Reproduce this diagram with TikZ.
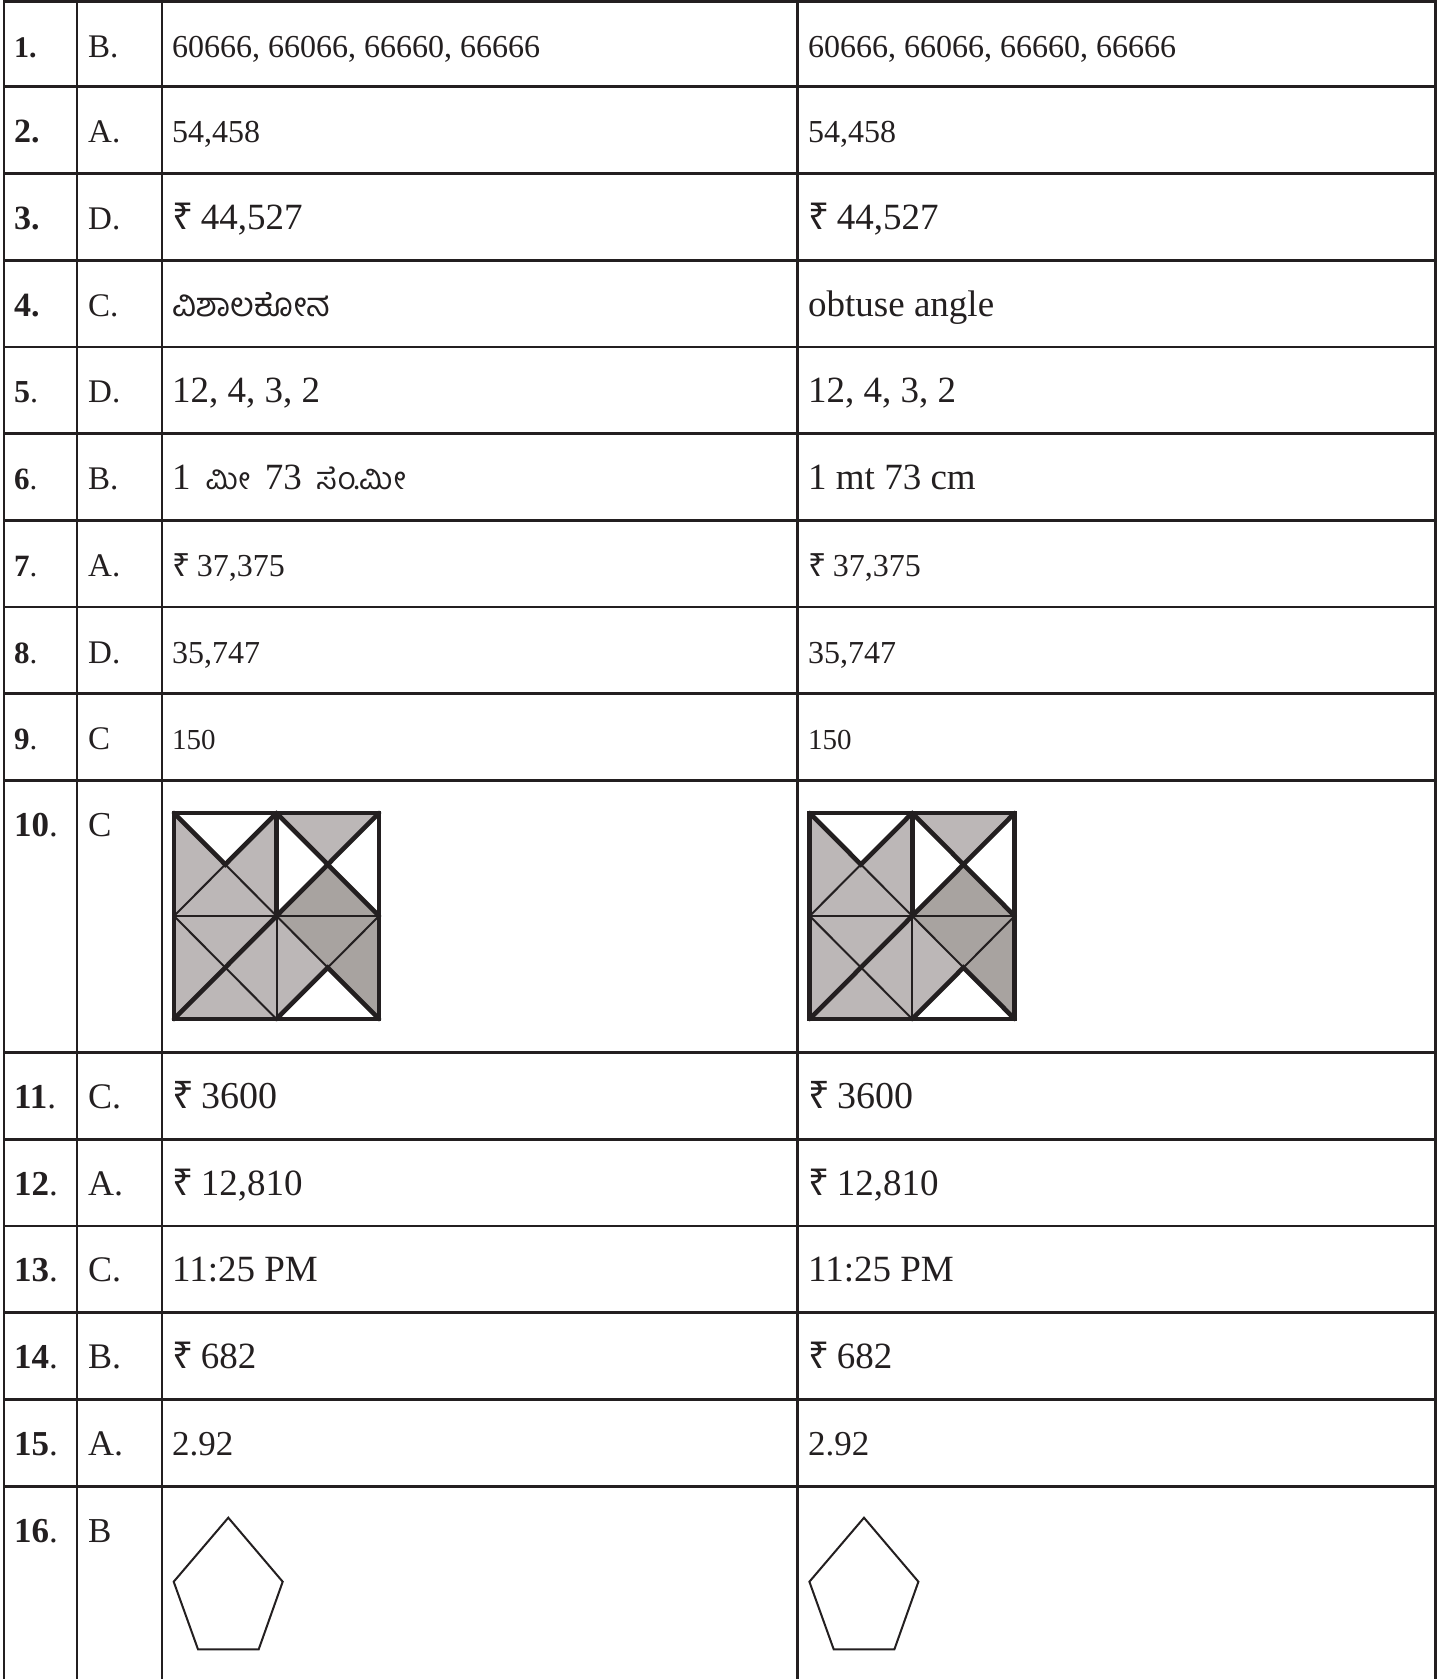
\documentclass[tikz,border=0pt]{standalone}
\usepackage{fontspec}
\setmainfont{Liberation Serif}
\newfontfamily\kan[Script=Kannada]{Hind Mysuru}
\newfontfamily\rupfont{Noto Sans}
\newcommand{\rs}{{\rupfont ₹}\hspace{0.2em}}
\newcommand{\fs}[1]{\fontsize{#1}{#1}\selectfont}
\definecolor{ink}{RGB}{35,31,32}
\definecolor{lgray}{RGB}{188,183,183}
\definecolor{dgray}{RGB}{168,163,160}
\tikzset{
  rule/.style={line width=2.7pt, draw=ink},
  lab/.style={anchor=base west, inner sep=0pt, text=ink},
  thinln/.style={line width=2pt, draw=ink},
  thickln/.style={line width=4.6pt, draw=ink, line cap=round},
  pentln/.style={line width=2pt, draw=ink, line join=miter},
}
% #1 id, #2 top, #3 label size, #4 label, #5 letter size, #6 letter, #7 text size, #8 col3, #9 col4
\newcommand{\tabrow}[9]{%
  \node[lab,font=\fs{#3}] (num#1) at (14,{#2+56}) {#4};
  \node[lab,font=\fs{#5}] (ans#1) at (88,{#2+56}) {#6};
  \node[lab,font=\fs{#7}] (kn#1) at (172,{#2+56}) {#8};
  \node[lab,font=\fs{#7}] (en#1) at (808,{#2+56}) {#9};
}
\begin{document}
\begin{tikzpicture}[x=1pt,y=-1pt]
\useasboundingbox (0,0) rectangle (1454,1679);
% figures (rows 10 and 16)
\foreach \dx/\k in {0/a,635.7/b}{
  \begin{scope}[shift={(\dx,0)}]
    % square
    \fill[lgray] (174,813) rectangle (379,1019);
    \fill[white] (174,813) -- (276.5,813) -- (225.25,864.5) -- cycle;
    \fill[white] (276.5,813) -- (276.5,916) -- (327.75,864.5) -- cycle;
    \fill[white] (379,813) -- (379,916) -- (327.75,864.5) -- cycle;
    \fill[white] (276.5,1019) -- (379,1019) -- (327.75,967.5) -- cycle;
    \fill[dgray] (276.5,916) -- (379,916) -- (327.75,864.5) -- cycle;
    \fill[dgray] (276.5,916) -- (379,916) -- (327.75,967.5) -- cycle;
    \fill[dgray] (379,916) -- (379,1019) -- (327.75,967.5) -- cycle;
    % thin grid lines
    \draw[thinln] (174,916) -- (379,916);
    \draw[thinln] (276.5,916) -- (276.5,1019);
    \draw[thinln] (174,813) -- (276.5,916) (276.5,813) -- (174,916);
    \draw[thinln] (276.5,813) -- (379,916) (379,813) -- (276.5,916);
    \draw[thinln] (174,916) -- (276.5,1019) (276.5,916) -- (174,1019);
    \draw[thinln] (276.5,916) -- (379,1019) (379,916) -- (276.5,1019);
    % thick segments
    \draw[thickln] (174,813) -- (225.25,864.5) -- (276.5,813);
    \draw[thickln] (276.5,813) -- (379,916) (379,813) -- (276.5,916);
    \draw[thickln] (276.5,813) -- (276.5,916);
    \draw[thickln] (174,1019) -- (276.5,916);
    \draw[thickln] (276.5,1019) -- (327.75,967.5) -- (379,1019);
    \draw[thickln] (174,813) rectangle (379,1019);
    % pentagon
    \draw[pentln] (228.3,1517.7) -- (282.7,1581.7) -- (258.7,1649.3) -- (198,1649.3) -- (173.7,1581.7) -- cycle;
  \end{scope}
}
% table rules
\foreach \y in {1.5,86.7,173.5,260.2,346.9,433.6,520.4,607.1,693.8,780.5,1052.5,1139.2,1225.9,1312.7,1399.4,1486.2}
  \draw[rule] (4,\y) -- (1435.5,\y);
\foreach \x in {4,77,162,797.7,1435.5}
  \draw[rule] (\x,0.2) -- (\x,1679);
% rows
\tabrow{1}{1.5}{30}{\textbf{1.}}{33}{B.}{32}{60666, 66066, 66660, 66666}{60666, 66066, 66660, 66666}
\tabrow{2}{86.7}{34}{\textbf{2.}}{33}{A.}{32}{54,458}{54,458}
\tabrow{3}{173.5}{34}{\textbf{3.}}{33}{D.}{37}{\rs 44,527}{\rs 44,527}
\tabrow{4}{260.2}{34}{\textbf{4.}}{33}{C.}{37}{{\kan\fs{33}ವಿಶಾಲಕೋನ}}{obtuse angle}
\tabrow{5}{346.9}{32}{\textbf{5}.}{33}{D.}{37}{12, 4, 3, 2}{12, 4, 3, 2}
\tabrow{6}{433.6}{31}{\textbf{6}.}{33}{B.}{37}{1\hspace{0.4em}{\kan\fs{30}ಮೀ}\hspace{0.4em}73\hspace{0.4em}{\kan\fs{31}ಸೆಂ.ಮೀ}}{1 mt 73 cm}
\tabrow{7}{520.4}{31}{\textbf{7}.}{33}{A.}{32}{\rs 37,375}{\rs 37,375}
\tabrow{8}{607.1}{31}{\textbf{8}.}{33}{D.}{32}{35,747}{35,747}
\tabrow{9}{693.8}{31}{\textbf{9}.}{33}{C}{29}{150}{150}
\node[lab,font=\fs{35}] (num10) at (14,836.5) {\textbf{10}.};
\node[lab,font=\fs{35}] (ans10) at (88,836.5) {C};
\tabrow{11}{1052.5}{35}{\textbf{11}.}{36}{C.}{38}{\rs 3600}{\rs 3600}
\tabrow{12}{1139.2}{35}{\textbf{12}.}{36}{A.}{37}{\rs 12,810}{\rs 12,810}
\tabrow{13}{1225.9}{35}{\textbf{13}.}{36}{C.}{37}{11:25 PM}{11:25 PM}
\tabrow{14}{1312.7}{35}{\textbf{14}.}{36}{B.}{37}{\rs 682}{\rs 682}
\tabrow{15}{1399.4}{35}{\textbf{15}.}{36}{A.}{35}{2.92}{2.92}
\node[lab,font=\fs{35}] (num16) at (14,1542) {\textbf{16}.};
\node[lab,font=\fs{35}] (ans16) at (88,1542) {B};
\end{tikzpicture}
\end{document}
